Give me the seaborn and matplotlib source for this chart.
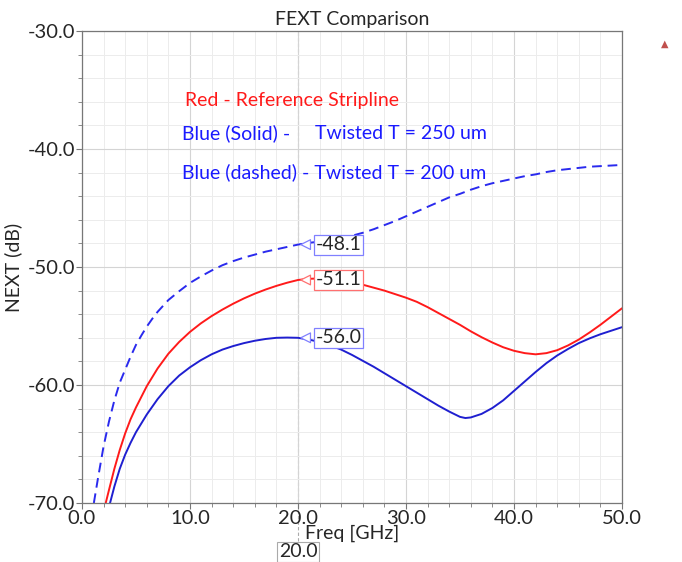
import numpy as np
import pandas as pd
import matplotlib
matplotlib.use("Agg")
import matplotlib.pyplot as plt
from matplotlib.ticker import MultipleLocator
import seaborn as sns

# values
red_freq = [2.2, 2.5, 3, 3.5, 4, 4.5, 5, 6, 7, 8, 9, 10, 11, 12, 13, 14, 15, 16, 17,
            18, 19, 20, 21, 22, 23, 24, 25, 26, 27, 28, 29, 30, 31, 32, 33, 34, 35,
            36, 37, 38, 39, 40, 41, 42, 43, 44, 45, 46, 47, 48, 49, 50]
red_db = [-70.0, -68.9, -67.1, -65.5, -64.1, -62.9, -61.9, -60.1, -58.6, -57.35,
          -56.35, -55.5, -54.78, -54.16, -53.61, -53.11, -52.66, -52.26, -51.91,
          -51.6, -51.33, -51.1, -51.0, -50.97, -51.02, -51.13, -51.3, -51.5, -51.75,
          -52.0, -52.3, -52.6, -52.95, -53.4, -53.9, -54.4, -54.9, -55.45, -55.95,
          -56.4, -56.8, -57.1, -57.3, -57.4, -57.3, -57.05, -56.65, -56.15, -55.55,
          -54.9, -54.2, -53.5]

solid_freq = [2.6, 3, 3.5, 4, 4.5, 5, 6, 7, 8, 9, 10, 11, 12, 13, 14, 15, 16, 17, 18,
              19, 20, 21, 22, 23, 24, 25, 26, 27, 28, 29, 30, 31, 32, 33, 34, 35,
              35.5, 36, 37, 38, 39, 40, 41, 42, 43, 44, 45, 46, 47, 48, 49, 50]
solid_db = [-70.0, -68.6, -67.1, -65.9, -64.9, -64.0, -62.5, -61.2, -60.1, -59.2,
            -58.5, -57.9, -57.4, -57.0, -56.7, -56.45, -56.25, -56.1, -56.0, -55.98,
            -56.0, -56.15, -56.35, -56.65, -57.0, -57.45, -57.95, -58.45, -59.0,
            -59.55, -60.1, -60.65, -61.2, -61.75, -62.25, -62.7, -62.8, -62.75,
            -62.45, -61.95, -61.3, -60.5, -59.7, -58.9, -58.15, -57.5, -56.95,
            -56.45, -56.05, -55.7, -55.4, -55.1]

dashed_freq = [1.1, 1.5, 2, 2.5, 3, 3.5, 4, 4.5, 5, 5.5, 6, 6.5, 7, 7.5, 8, 9, 10,
               11, 12, 13, 14, 15, 16, 17, 18, 19, 20, 21, 22, 23, 24, 25, 26, 27,
               28, 29, 30, 31, 32, 33, 34, 35, 36, 37, 38, 39, 40, 41, 42, 43, 44,
               45, 46, 47, 48, 49, 50]
dashed_db = [-70.0, -67.8, -65.2, -63.1, -61.3, -59.8, -58.7, -57.6, -56.6, -55.8,
             -55.05, -54.4, -53.8, -53.3, -52.8, -52.05, -51.35, -50.8, -50.3,
             -49.85, -49.5, -49.2, -48.95, -48.7, -48.5, -48.3, -48.1, -47.95,
             -47.85, -47.7, -47.55, -47.35, -47.1, -46.8, -46.45, -46.1, -45.7,
             -45.3, -44.9, -44.5, -44.1, -43.8, -43.45, -43.15, -42.9, -42.7, -42.5,
             -42.3, -42.15, -41.95, -41.8, -41.7, -41.6, -41.5, -41.45, -41.4, -41.35]

marker_freq = 20.0
marker_vals = [-48.1, -51.1, -56.0]

df = pd.concat([
    pd.DataFrame({"freq": red_freq, "db": red_db, "curve": "red"}),
    pd.DataFrame({"freq": solid_freq, "db": solid_db, "curve": "solid"}),
    pd.DataFrame({"freq": dashed_freq, "db": dashed_db, "curve": "dashed"}),
])

sns.set_style("white")
plt.rcParams["font.family"] = ["Lato", "DejaVu Sans"]

fig = plt.figure(figsize=(6.82, 5.62), dpi=100)
ax = fig.add_axes([0.1202, 0.105, 0.7918, 0.8398])

palette = {"red": "#ff1a1a", "solid": "#1f1fd0", "dashed": "#2a2aee"}
dashes = {"red": "", "solid": "", "dashed": (5, 3)}
sns.lineplot(data=df, x="freq", y="db", hue="curve", style="curve",
             palette=palette, dashes=dashes, linewidth=1.4, legend=False,
             sort=False, ax=ax)

ax.set_xlim(0, 50)
ax.set_ylim(-70, -30)
ax.xaxis.set_major_locator(MultipleLocator(10))
ax.xaxis.set_minor_locator(MultipleLocator(2))
ax.yaxis.set_major_locator(MultipleLocator(10))
ax.yaxis.set_minor_locator(MultipleLocator(2))
ax.xaxis.set_major_formatter(lambda v, p: f"{v:.1f}")
ax.yaxis.set_major_formatter(lambda v, p: f"{v:.1f}")
ax.grid(which="major", color="#d4d4d4", linewidth=0.8)
ax.grid(which="minor", color="#ececec", linewidth=0.7)
ax.set_axisbelow(True)
ax.tick_params(which="both", direction="out", length=4, color="#777777",
               labelsize=14.5, pad=1, left=True, bottom=True)
ax.tick_params(which="minor", length=3)
for s in ax.spines.values():
    s.set_color("#777777")
    s.set_linewidth(0.9)

ax.set_xlabel("Freq [GHz]", fontsize=14, labelpad=-1.5)
ax.set_ylabel("NEXT (dB)", fontsize=14, labelpad=4)
ax.set_title("FEXT Comparison", fontsize=14, pad=4)

# marker line (runs down to the marker box below the axis) and labels
ax.axvline(marker_freq, ymin=-0.08, ymax=1, color="#aaaaaa",
           linestyle=(0, (3, 2)), linewidth=0.8, clip_on=False, zorder=0.5)
for val, ec in zip(marker_vals, ["#8080ff", "#ff7070", "#8080ff"]):
    ax.annotate(f"{val:.1f}", xy=(marker_freq, val), xytext=(marker_freq + 1.6, val),
                fontsize=14, va="center", ha="left",
                bbox=dict(boxstyle="square,pad=0.08", fc="white", ec=ec, lw=0.9),
                arrowprops=dict(arrowstyle="wedge,tail_width=0.5,shrink_factor=0.5",
                                fc="white", ec=ec, lw=0.9))
ax.text(marker_freq, -0.085, f"{marker_freq:.1f}", transform=ax.get_xaxis_transform(),
        fontsize=14, ha="center", va="top",
        bbox=dict(boxstyle="square,pad=0.08", fc="white", ec="#aaaaaa", lw=0.8))

# annotation text
ax.text(9.5, -35.85, "Red - Reference Stripline", color="#ff1a1a", fontsize=14,
        va="center")
ax.text(9.25, -38.7, "Blue (Solid) -", color="#1a1aff", fontsize=14, va="center")
ax.text(21.6, -38.7, "Twisted T = 250 um", color="#1a1aff", fontsize=14,
        va="center")
ax.text(9.25, -41.95, "Blue (dashed) - Twisted T = 200 um", color="#1a1aff",
        fontsize=14, va="center")

fig.text(0.975, 0.922, "\u25b2", color="#c0504d", fontsize=7, ha="center",
         va="center")

fig.savefig("out.png", dpi=100)
